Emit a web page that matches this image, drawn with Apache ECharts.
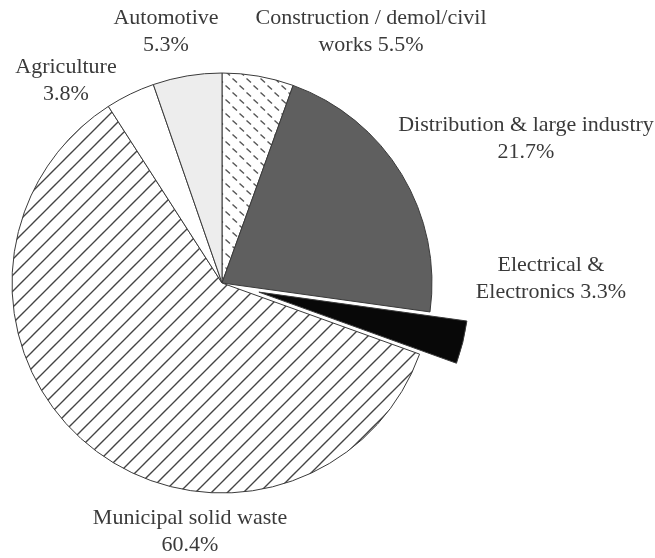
<!DOCTYPE html>
<html>
<head>
<meta charset="utf-8">
<script src="https://cdn.jsdelivr.net/npm/echarts@6/dist/echarts.min.js"></script>
<style>
  html, body { margin: 0; padding: 0; background: #fff; }
  #chart { width: 655px; height: 558px; }
</style>
</head>
<body>
<div id="chart"></div>
<script>
// sectors, clockwise from 12 o'clock
const sectors = [
  'Construction / demol/civil\nworks',
  'Distribution & large industry',
  'Electrical &\nElectronics',
  'Municipal solid waste',
  'Agriculture',
  'Automotive'
];
const shares = [5.5, 21.7, 3.3, 60.4, 3.8, 5.3];
const exploded = 2; // Electrical & Electronics pulled out

// label anchor points (centre of each text block)
const labelPos = [
  [371, 32],
  [526, 139],
  [551, 279],
  [190, 532],
  [66, 81],
  [166, 32]
];

const CX = 222, CY = 283, R = 210, PULL = 38;

function makeTile(w, h, draw) {
  let c = document.createElement('canvas');
  c.width = w;
  c.height = h;
  let ctx = c.getContext('2d');
  ctx.fillStyle = '#fff';
  ctx.fillRect(0, 0, w, h);
  draw(ctx);
  return c;
}

// diagonal hatch for municipal waste
const hatch = makeTile(16, 16, ctx => {
  ctx.strokeStyle = '#444';
  ctx.lineWidth = 1.4;
  ctx.beginPath();
  ctx.moveTo(-2, 18); ctx.lineTo(18, -2);
  ctx.moveTo(-10, 10); ctx.lineTo(10, -10);
  ctx.moveTo(6, 26); ctx.lineTo(26, 6);
  ctx.stroke();
});

// small dashes for construction
const dashes = makeTile(14, 14, ctx => {
  ctx.strokeStyle = '#555';
  ctx.lineWidth = 1.4;
  ctx.beginPath();
  ctx.moveTo(1.5, 1.5); ctx.lineTo(6, 5.5);
  ctx.moveTo(8.5, 8.5); ctx.lineTo(13, 12.5);
  ctx.stroke();
});

const fills = [
  { image: dashes, repeat: 'repeat' },
  '#5f5f5f',
  '#080808',
  { image: hatch, repeat: 'repeat' },
  '#ffffff',
  '#ededed'
];

// direction of the pulled-out slice (middle of its arc, clockwise from 12 o'clock)
const total = shares.reduce((a, b) => a + b, 0);
const before = shares.slice(0, exploded).reduce((a, b) => a + b, 0);
const midAng = (before + shares[exploded] / 2) / total * 2 * Math.PI;
const pullX = PULL * Math.sin(midAng);
const pullY = -PULL * Math.cos(midAng);

function pieSeries(center, visible) {
  return {
    type: 'pie',
    center: center,
    radius: R,
    startAngle: 90,
    clockwise: true,
    avoidLabelOverlap: false,
    silent: true,
    emphasis: { disabled: true },
    itemStyle: {
      borderColor: '#3a3a3a',
      borderWidth: 1
    },
    label: {
      show: true,
      position: 'outside',
      overflow: 'none',
      fontFamily: 'Liberation Serif',
      fontSize: 22,
      lineHeight: 27,
      color: '#3a3a3a',
      formatter: p => p.name + (p.name.indexOf('\n') >= 0 ? ' ' : '\n') + p.value + '%'
    },
    labelLine: { show: false },
    labelLayout: params => ({
      x: labelPos[params.dataIndex][0],
      y: labelPos[params.dataIndex][1],
      align: 'center',
      verticalAlign: 'middle',
      width: 400
    }),
    data: sectors.map((name, i) => ({
      name: name,
      value: shares[i],
      itemStyle: visible(i)
        ? { color: fills[i] }
        : { color: 'rgba(0,0,0,0)', borderWidth: 0 },
      label: { show: visible(i) }
    }))
  };
}

let myChart = echarts.init(document.getElementById('chart'));
let option = {
  animation: false,
  series: [
    pieSeries([CX, CY], i => i !== exploded),
    pieSeries([CX + pullX, CY + pullY], i => i === exploded)
  ]
};
myChart.setOption(option);
</script>
</body>
</html>
